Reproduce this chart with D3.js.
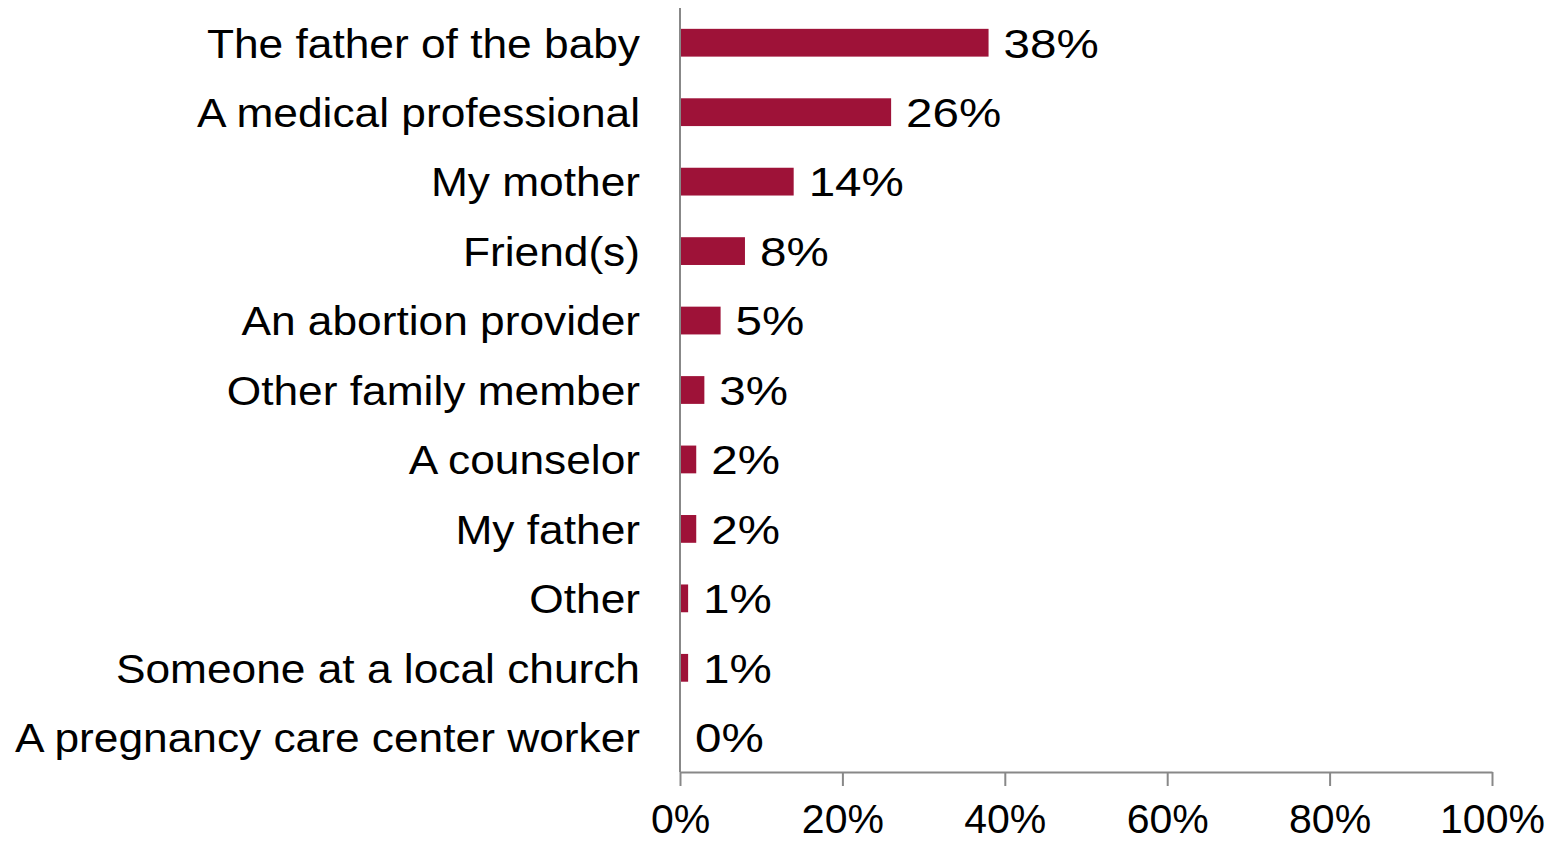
<!DOCTYPE html>
<html>
<head>
<meta charset="utf-8">
<script src="https://cdn.jsdelivr.net/npm/d3@7"></script>
<style>
  body { margin: 0; background: #fff; }
  text { font-family: "Liberation Sans", Arial, sans-serif; fill: #000; }
</style>
</head>
<body>
<svg id="chart" width="1555" height="845"></svg>
<script>
const categories = [
  "The father of the baby",
  "A medical professional",
  "My mother",
  "Friend(s)",
  "An abortion provider",
  "Other family member",
  "A counselor",
  "My father",
  "Other",
  "Someone at a local church",
  "A pregnancy care center worker"
];
const values = [38, 26, 14, 8, 5, 3, 2, 2, 1, 1, 0];
const xTicks = [0, 20, 40, 60, 80, 100];

const rows = categories.map((c, i) => ({ name: c, value: values[i] }));

const svg = d3.select("#chart");
const margin = { left: 680, right: 63, top: 8, bottom: 73 };
const width = 1555, height = 845;

const x = d3.scaleLinear()
    .domain([0, 100])
    .range([margin.left, width - margin.right]);

const y = d3.scaleBand()
    .domain(categories)
    .range([margin.top, height - margin.bottom])
    .paddingInner(0.6)
    .paddingOuter(0.3);

// bars
svg.append("g")
  .selectAll("rect")
  .data(rows)
  .join("rect")
    .attr("x", x(0))
    .attr("y", d => y(d.name))
    .attr("width", d => x(d.value) - x(0))
    .attr("height", y.bandwidth())
    .attr("fill", "#9e1238");

// value labels (the source font runs wider than Liberation Sans)
svg.append("g")
  .selectAll("text")
  .data(rows)
  .join("text")
    .attr("transform", d => "translate(" + (x(d.value) + 15) + ","
        + (y(d.name) + y.bandwidth() / 2) + ") scale(1.16,1)")
    .attr("dy", "0.36em")
    .style("font-size", "41px")
    .text(d => d.value + "%");

// category labels
svg.append("g")
  .selectAll("text")
  .data(rows)
  .join("text")
    .attr("transform", d => "translate(640," + (y(d.name) + y.bandwidth() / 2) + ") scale(1.08,1)")
    .attr("dy", "0.36em")
    .attr("text-anchor", "end")
    .style("font-size", "41px")
    .text(d => d.name);

// y axis line
svg.append("line")
    .attr("x1", x(0)).attr("x2", x(0))
    .attr("y1", margin.top).attr("y2", height - margin.bottom)
    .attr("stroke", "#888").attr("stroke-width", 2);

// x axis
const xAxis = svg.append("g")
    .attr("transform", "translate(0," + (height - margin.bottom) + ")")
    .call(d3.axisBottom(x)
      .tickValues(xTicks)
      .tickSize(14)
      .tickSizeOuter(0)
      .tickPadding(18)
      .tickFormat(d => d + "%"));

xAxis.select(".domain").attr("stroke", "#888").attr("stroke-width", 2);
xAxis.selectAll(".tick line").attr("stroke", "#888").attr("stroke-width", 2);
xAxis.selectAll(".tick text")
    .style("font-size", "41px")
    .style("font-family", "Liberation Sans, Arial, sans-serif")
    .attr("fill", "#000");
</script>
</body>
</html>
